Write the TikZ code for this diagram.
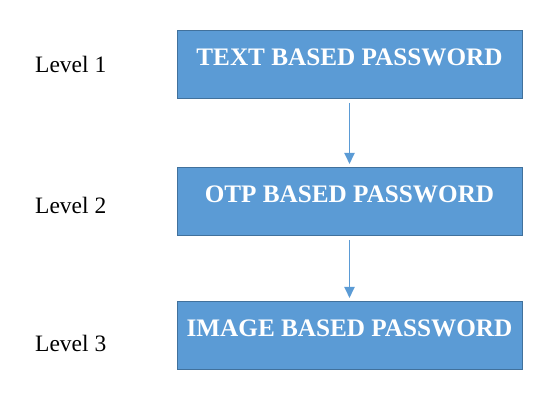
\documentclass[tikz,border=0pt]{standalone}
\usepackage{fontspec}
\setmainfont{Liberation Serif}
\newfontfamily\levelfont{Liberation Serif}
\usetikzlibrary{arrows.meta}
\definecolor{boxfill}{HTML}{5B9BD5}
\definecolor{boxline}{HTML}{41719C}
\tikzset{
  levelbox/.style={draw=boxline, line width=1pt, fill=boxfill, text=white,
    minimum width=345pt, minimum height=68pt, inner xsep=0pt, inner ysep=18pt,
    text height=17pt, text depth=15pt,
    font=\levelfont\fontsize{25.2}{30}\selectfont\bfseries},
  levellabel/.style={anchor=west, inner sep=0pt, font=\levelfont\fontsize{23.5}{28}\selectfont},
  flowarrow/.style={draw=boxfill, line width=1.8pt,
    -{Triangle[width=10pt,length=11pt]}, shorten <=4pt, shorten >=3pt}
}
\begin{document}
\begin{tikzpicture}[x=1pt,y=-1pt]
\useasboundingbox (0,0) rectangle (552,414);
\node[levelbox] (b1) at (349.5,64.5) {TEXT BASED PASSWORD};
\node[levelbox] (b2) at (349.5,201.5) {OTP BASED PASSWORD};
\node[levelbox] (b3) at (349.5,335.5) {IMAGE BASED PASSWORD};
\node[levellabel] (l1) at (35,64) {Level 1};
\node[levellabel] (l2) at (35,205) {Level 2};
\node[levellabel] (l3) at (35,343) {Level 3};
\draw[flowarrow] (b1.south) -- (b2.north);
\draw[flowarrow] (b2.south) -- (b3.north);
\end{tikzpicture}
\end{document}
